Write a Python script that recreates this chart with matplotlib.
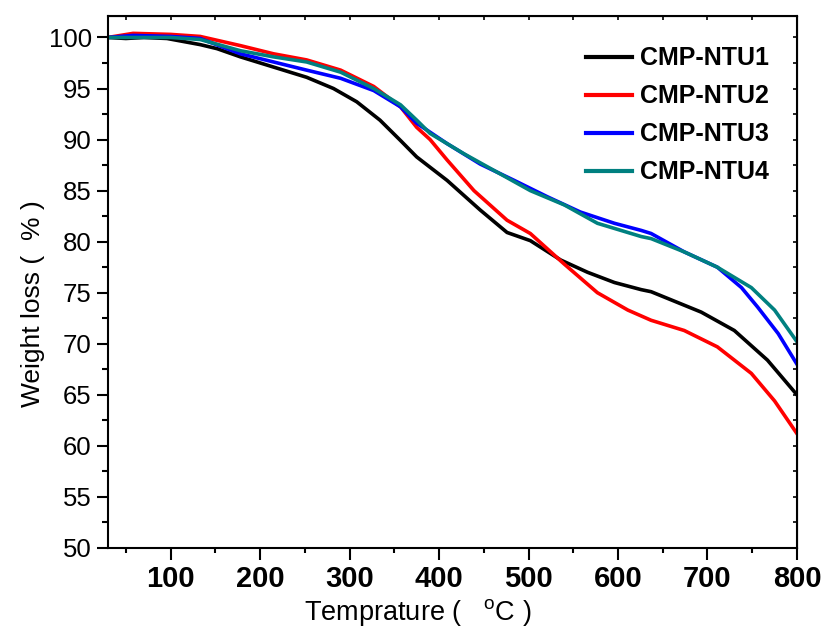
import matplotlib
matplotlib.use("Agg")
import matplotlib.pyplot as plt
from matplotlib.ticker import MultipleLocator

## TGA data (temperature in C, weight in %)
t_ntu1 = [30, 50, 70, 96, 133, 152, 178, 215, 252, 282, 308, 334, 357, 375, 409,
          446, 476, 502, 536, 566, 596, 626, 637, 693, 730, 767, 800]
w_ntu1 = [100.0, 99.9, 100.0, 99.9, 99.3, 98.9, 98.1, 97.1, 96.1, 95.0, 93.7, 91.9,
          89.9, 88.3, 86.0, 83.1, 80.9, 80.1, 78.2, 77.0, 76.0, 75.3, 75.1, 73.1,
          71.3, 68.4, 65.0]

t_ntu2 = [30, 58, 100, 133, 178, 215, 252, 290, 327, 357, 375, 390, 409, 439, 476,
          502, 540, 577, 611, 637, 674, 711, 749, 775, 800]
w_ntu2 = [100.0, 100.4, 100.3, 100.1, 99.2, 98.4, 97.8, 96.8, 95.2, 93.2, 91.2, 90.0,
          88.0, 85.0, 82.1, 80.8, 77.8, 75.0, 73.3, 72.3, 71.3, 69.7, 67.1, 64.4, 61.2]

t_ntu3 = [30, 58, 100, 133, 178, 215, 252, 290, 327, 357, 375, 409, 446, 484, 521,
          558, 596, 626, 637, 674, 711, 738, 756, 779, 800]
w_ntu3 = [100.0, 100.2, 100.1, 99.9, 98.4, 97.6, 96.8, 96.0, 94.8, 93.2, 91.6, 89.6,
          87.6, 86.0, 84.4, 82.9, 81.8, 81.1, 80.8, 79.0, 77.5, 75.5, 73.6, 71.0, 68.0]

t_ntu4 = [30, 58, 100, 133, 178, 215, 252, 290, 327, 357, 375, 390, 428, 465, 502,
          540, 577, 626, 637, 674, 711, 749, 775, 800]
w_ntu4 = [100.0, 100.0, 100.0, 99.8, 98.7, 98.1, 97.6, 96.6, 95.0, 93.4, 91.9, 90.6,
          88.6, 86.8, 85.0, 83.6, 81.8, 80.5, 80.3, 79.0, 77.5, 75.5, 73.3, 70.2]

labels = ["CMP-NTU1", "CMP-NTU2", "CMP-NTU3", "CMP-NTU4"]
colors = ["#000000", "#ff0000", "#0000ff", "#008080"]

plt.rcParams["font.family"] = ["Liberation Sans", "DejaVu Sans"]
plt.rcParams["mathtext.default"] = "regular"

fig = plt.figure(figsize=(8.3, 6.33), dpi=100)
ax = fig.add_axes([0.1301, 0.1343, 0.8301, 0.8404])

series = [(t_ntu1, w_ntu1), (t_ntu2, w_ntu2), (t_ntu3, w_ntu3), (t_ntu4, w_ntu4)]
for (t, w), lab, c in zip(series, labels, colors):
    ax.plot(t, w, color=c, linewidth=2.6, label=lab)

ax.set_xlim(30, 800)
ax.set_ylim(50, 102.1)
ax.xaxis.set_major_locator(MultipleLocator(100))
ax.xaxis.set_minor_locator(MultipleLocator(50))
ax.yaxis.set_major_locator(MultipleLocator(5))
ax.yaxis.set_minor_locator(MultipleLocator(2.5))

for s in ax.spines.values():
    s.set_linewidth(1.5)

## outer ticks on bottom/left, small mirrored ticks on top/right
ax.tick_params(axis="x", which="major", direction="out", length=8.5, width=1.5, pad=4)
ax.tick_params(axis="x", which="minor", direction="out", length=3.6, width=1.5)
ax.tick_params(axis="y", which="major", direction="out", length=7.7, width=1.5, pad=4)
ax.tick_params(axis="y", which="minor", direction="out", length=4, width=1.5)
sec_x = ax.secondary_xaxis("top")
sec_x.set_xticks(range(50, 801, 50))
sec_x.tick_params(direction="in", length=3, width=1.2, labeltop=False)
sec_y = ax.secondary_yaxis("right")
sec_y.set_yticks([50 + 2.5 * i for i in range(21)])
sec_y.tick_params(direction="in", length=3, width=1.2, labelright=False)

for lbl in ax.get_xticklabels():
    lbl.set_fontsize(21)
    lbl.set_fontweight("bold")
for lbl in ax.get_yticklabels():
    lbl.set_fontsize(18.5)

ax.set_xlabel(r"Temprature (   $^{o}$C )", fontsize=19.5)
ax.set_ylabel("Weight loss (  % )", fontsize=19)
ax.xaxis.set_label_coords(0.45, -0.092)
ax.yaxis.set_label_coords(-0.092, 0.46)

leg = ax.legend(loc="upper left", bbox_to_anchor=(0.694, 0.943), frameon=False,
                prop={"size": 18, "weight": "bold"}, handlelength=1.85,
                handletextpad=0.32, labelspacing=0.56, borderpad=0,
                borderaxespad=0)
for line in leg.get_lines():
    line.set_linewidth(3)

plt.savefig("out.png", dpi=100)
